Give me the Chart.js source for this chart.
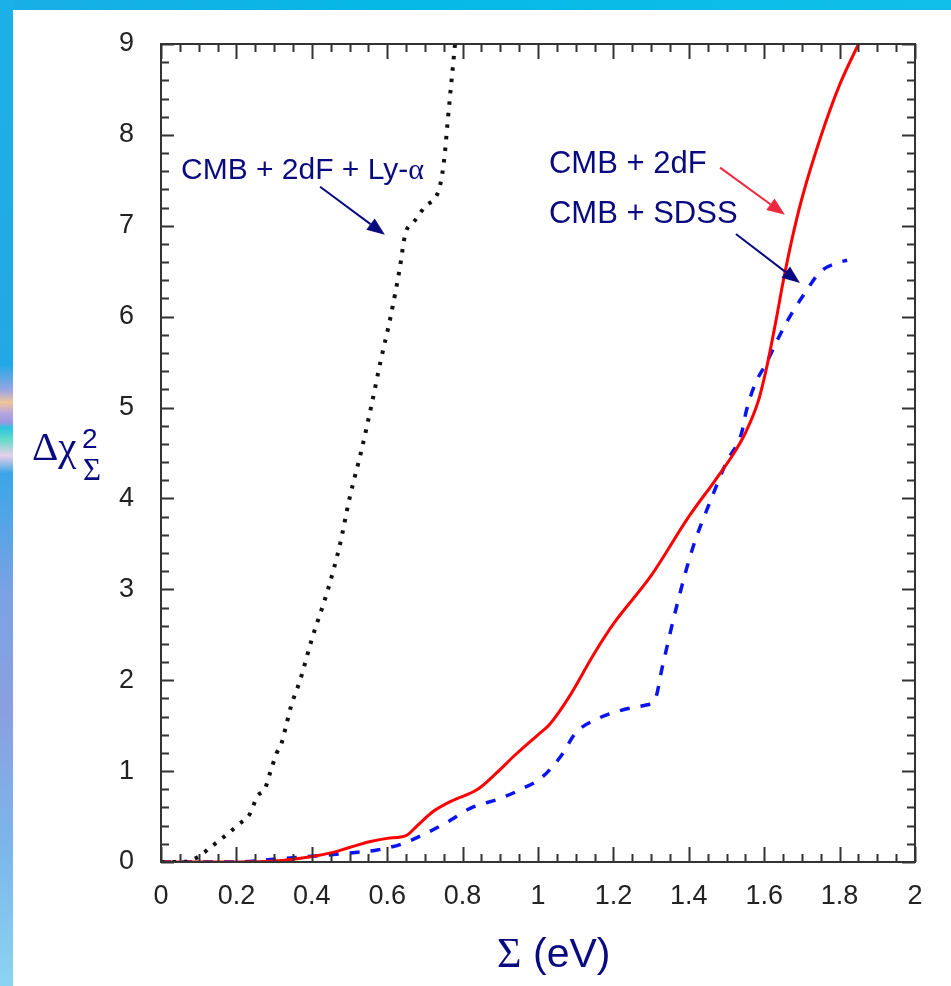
<!DOCTYPE html>
<html>
<head>
  <meta charset="utf-8">
  <title>Δχ² en fonction de Σ</title>
  <script src="https://cdn.jsdelivr.net/npm/chart.js"></script>
  <style>
    html, body { margin: 0; padding: 0; }
    body { width: 951px; height: 986px; position: relative; overflow: hidden; background: #fff; }
    #topband { position: absolute; left: 0; top: 0; width: 951px; height: 10px;
      background: linear-gradient(to right, #1aaee6, #06b8e6 40%, #10c0ea); }
    #leftband { position: absolute; left: 0; top: 0; width: 13px; height: 986px;
      background: linear-gradient(to bottom, #1cb0e8 0%, #22a8e6 37%, #9aa6e4 39.6%, #f2c49a 40.8%, #b4a4e2 42%,
        #a098e0 42.8%, #2cc4e0 43.4%, #64dcc8 44.6%, #e8d0e8 46.2%, #3aa6e8 48%, #7aa2e4 60%, #8aa0e0 72%, #7cb6ea 86%, #8ad4f2 100%); }
    .t { position: absolute; color: #0a0a80; line-height: 1; white-space: nowrap; }
    .serif { font-family: "Liberation Serif", "DejaVu Serif", serif; }
    .sans { font-family: "Liberation Sans", Arial, sans-serif; }
    #chart { position: absolute; left: 0; top: 0; }
  </style>
</head>
<body>
  <div id="topband"></div>
  <div id="leftband"></div>
  <canvas id="chart" width="951" height="986"></canvas>

  <!-- titres des axes -->
  <span class="t serif" style="left:32px; top:426px; font-size:41px;">Δχ</span>
  <span class="t sans" style="left:82px; top:425px; font-size:28px;">2</span>
  <span class="t serif" style="left:83px; top:454px; font-size:31px;">Σ</span>
  <span class="t serif" style="left:497px; top:932px; font-size:42px;">Σ</span>
  <span class="t sans" style="left:533px; top:933px; font-size:41px;">(eV)</span>

  <script>
    // CMB + 2dF (trait plein rouge)
    const sigma2dF = [0, 0.1, 0.2, 0.3, 0.35, 0.4, 0.45, 0.5, 0.55, 0.6, 0.65, 0.68, 0.72, 0.77, 0.84, 0.89, 0.94,
      1.0, 1.03, 1.08, 1.15, 1.2, 1.3, 1.4, 1.47, 1.52, 1.55, 1.585, 1.607, 1.63, 1.651, 1.673, 1.7, 1.75, 1.8, 1.85];
    const chi2dF = [0, 0, 0, 0.01, 0.03, 0.06, 0.1, 0.16, 0.22, 0.26, 0.29, 0.4, 0.55, 0.67, 0.8, 0.98, 1.18,
      1.4, 1.51, 1.8, 2.3, 2.62, 3.15, 3.8, 4.2, 4.5, 4.72, 5.08, 5.45, 5.93, 6.4, 6.84, 7.3, 7.98, 8.55, 9.0];

    // CMB + SDSS (tirets bleus)
    const sigmaSDSS = [0, 0.1, 0.2, 0.3, 0.39, 0.45, 0.5, 0.57, 0.64, 0.7, 0.76, 0.82, 0.9, 0.96, 1.01, 1.06, 1.1,
      1.16, 1.23, 1.29, 1.31, 1.33, 1.37, 1.41, 1.46, 1.5, 1.54, 1.553, 1.575, 1.607, 1.637, 1.668, 1.708, 1.748, 1.8, 1.82];
    const chiSDSS = [0, 0, 0, 0.03, 0.06, 0.08, 0.1, 0.13, 0.2, 0.31, 0.44, 0.59, 0.7, 0.81, 0.93, 1.16, 1.42,
      1.58, 1.68, 1.73, 1.78, 2.15, 2.85, 3.45, 4.0, 4.4, 4.72, 4.97, 5.25, 5.5, 5.76, 6.0, 6.26, 6.49, 6.6, 6.62];

    // CMB + 2dF + Ly-alpha (pointillés noirs)
    const sigmaLya = [0, 0.06, 0.1, 0.134, 0.174, 0.205, 0.236, 0.255, 0.276, 0.29, 0.307, 0.32, 0.333, 0.346, 0.369,
      0.4, 0.443, 0.475, 0.5, 0.53, 0.557, 0.582, 0.609, 0.634, 0.645, 0.652, 0.67, 0.7, 0.736, 0.746, 0.753, 0.76, 0.78];
    const chiLya = [0, 0, 0.06, 0.17, 0.3, 0.41, 0.53, 0.72, 0.81, 0.99, 1.2, 1.31, 1.52, 1.73, 2.0,
      2.45, 3.0, 3.5, 4.0, 4.5, 5.0, 5.5, 6.0, 6.55, 6.85, 6.96, 7.04, 7.21, 7.38, 7.57, 7.8, 8.13, 9.0];

    const xMin = 0, xMax = 2, xStep = 0.2, xMinor = 0.05;
    const yMin = 0, yMax = 9, yStep = 1, yMinor = 0.2;

    const navy = '#0a0a80';

    // étiquettes et flèches, ancrées en coordonnées (Σ, Δχ²)
    const notes = [
      { text: 'CMB + 2dF + Ly-', greek: 'α', at: [0.053, 7.52], from: [0.422, 7.43], to: [0.594, 6.9], arrow: navy },
      { text: 'CMB + 2dF', at: [1.029, 7.58], from: [1.483, 7.64], to: [1.655, 7.12], arrow: '#f0283f' },
      { text: 'CMB + SDSS', at: [1.029, 7.03], from: [1.525, 6.91], to: [1.695, 6.37], arrow: navy }
    ];

    function pairs(xs, ys) {
      return xs.map((x, i) => ({ x: x, y: ys[i] }));
    }

    // cadre avec graduations tournées vers l'intérieur sur les 4 côtés
    const cadre = {
      id: 'cadre',
      afterDatasetsDraw(chart) {
        const { ctx, chartArea: a, scales: { x, y } } = chart;
        ctx.save();
        ctx.strokeStyle = '#333';
        ctx.lineWidth = 2;
        ctx.beginPath();
        const nx = Math.round((xMax - xMin) / xMinor);
        const perX = Math.round(xStep / xMinor);
        for (let i = 0; i <= nx; i++) {
          const px = Math.round(x.getPixelForValue(xMin + i * xMinor)) + 0.5;
          const len = i % perX === 0 ? 15 : 8;
          ctx.moveTo(px, a.bottom); ctx.lineTo(px, a.bottom - len);
          ctx.moveTo(px, a.top); ctx.lineTo(px, a.top + len);
        }
        const ny = Math.round((yMax - yMin) / yMinor);
        const perY = Math.round(yStep / yMinor);
        for (let i = 0; i <= ny; i++) {
          const py = Math.round(y.getPixelForValue(yMin + i * yMinor)) + 0.5;
          const len = i % perY === 0 ? 13 : 8;
          ctx.moveTo(a.left, py); ctx.lineTo(a.left + len, py);
          ctx.moveTo(a.right, py); ctx.lineTo(a.right - len, py);
        }
        ctx.stroke();
        ctx.strokeRect(a.left, a.top, a.right - a.left, a.bottom - a.top);
        ctx.restore();
      }
    };

    function fleche(ctx, x1, y1, x2, y2, color) {
      const ang = Math.atan2(y2 - y1, x2 - x1);
      const head = 18, half = 7;
      const bx = x2 - head * Math.cos(ang), by = y2 - head * Math.sin(ang);
      ctx.strokeStyle = color;
      ctx.fillStyle = color;
      ctx.lineWidth = 2;
      ctx.beginPath();
      ctx.moveTo(x1, y1);
      ctx.lineTo(bx, by);
      ctx.stroke();
      ctx.beginPath();
      ctx.moveTo(x2, y2);
      ctx.lineTo(bx - half * Math.sin(ang), by + half * Math.cos(ang));
      ctx.lineTo(bx + half * Math.sin(ang), by - half * Math.cos(ang));
      ctx.closePath();
      ctx.fill();
    }

    const annotations = {
      id: 'annotations',
      afterDraw(chart) {
        const { ctx, scales: { x, y } } = chart;
        ctx.save();
        ctx.textBaseline = 'alphabetic';
        notes.forEach(n => {
          const tx = x.getPixelForValue(n.at[0]);
          const ty = y.getPixelForValue(n.at[1]);
          ctx.fillStyle = navy;
          ctx.font = '31px "Liberation Sans", Arial, sans-serif';
          if (n.greek) {
            // texte un peu resserré pour la légende Ly-α
            ctx.font = '30px "Liberation Sans", Arial, sans-serif';
          }
          ctx.fillText(n.text, tx, ty);
          if (n.greek) {
            const w = ctx.measureText(n.text).width;
            ctx.font = '30px "Liberation Serif", serif';
            ctx.fillText(n.greek, tx + w, ty);
          }
          fleche(ctx, x.getPixelForValue(n.from[0]), y.getPixelForValue(n.from[1]),
            x.getPixelForValue(n.to[0]), y.getPixelForValue(n.to[1]), n.arrow);
        });
        ctx.restore();
      }
    };

    const tickFont = { family: '"Liberation Sans", Arial, sans-serif', size: 27 };

    new Chart(document.getElementById('chart'), {
      type: 'line',
      data: {
        datasets: [
          {
            label: 'CMB + 2dF + Ly-α',
            data: pairs(sigmaLya, chiLya),
            borderColor: '#111',
            borderWidth: 4,
            borderDash: [3.5, 8],
            pointRadius: 0,
            cubicInterpolationMode: 'monotone'
          },
          {
            label: 'CMB + 2dF',
            data: pairs(sigma2dF, chi2dF),
            borderColor: '#ff0000',
            borderWidth: 3,
            pointRadius: 0,
            cubicInterpolationMode: 'monotone'
          },
          {
            label: 'CMB + SDSS',
            data: pairs(sigmaSDSS, chiSDSS),
            borderColor: '#0a14f0',
            borderWidth: 3.5,
            borderDash: [10, 11],
            pointRadius: 0,
            cubicInterpolationMode: 'monotone'
          }
        ]
      },
      options: {
        responsive: false,
        animation: false,
        layout: { padding: { left: 0, top: 44, right: 36, bottom: 0 }, autoPadding: false },
        plugins: { legend: { display: false }, tooltip: { enabled: false } },
        scales: {
          x: {
            type: 'linear', min: xMin, max: xMax,
            grid: { display: false }, border: { display: false },
            ticks: {
              stepSize: xStep, padding: 10, color: '#222', font: tickFont, maxRotation: 0,
              callback: v => String(Math.round(v * 10) / 10)
            },
            afterFit: s => { s.height = 124; }
          },
          y: {
            type: 'linear', min: yMin, max: yMax,
            grid: { display: false }, border: { display: false },
            ticks: { stepSize: yStep, padding: 19, color: '#222', font: tickFont },
            afterFit: s => { s.width = 161; }
          }
        }
      },
      plugins: [cadre, annotations]
    });
  </script>
</body>
</html>
